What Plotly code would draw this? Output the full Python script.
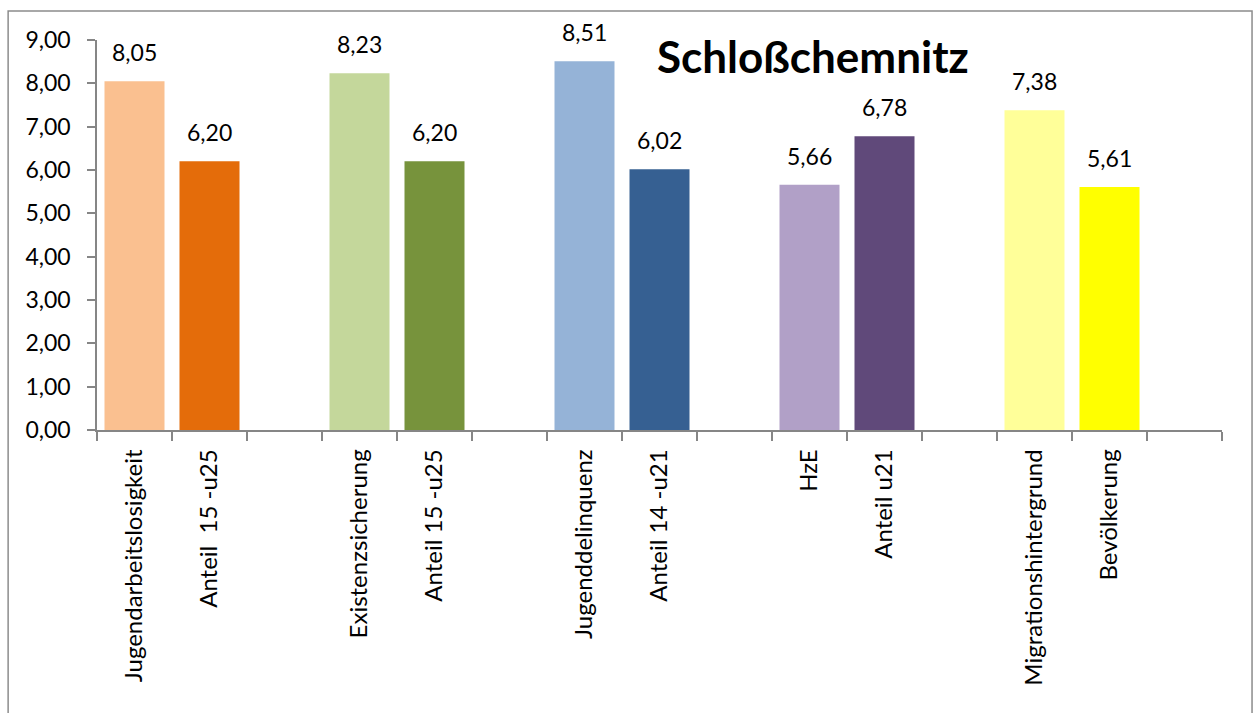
import plotly.graph_objects as go

# Slots: five groups of two bars, each group followed by an empty slot
labels = ["Jugendarbeitslosigkeit", "Anteil  15 -u25", "",
          "Existenzsicherung", "Anteil 15 -u25", "",
          "Jugenddelinquenz", "Anteil 14 -u21", "",
          "HzE", "Anteil u21", "",
          "Migrationshintergrund", "Bevölkerung", ""]
values = [8.05, 6.20, None,
          8.23, 6.20, None,
          8.51, 6.02, None,
          5.66, 6.78, None,
          7.38, 5.61, None]
colors = ["#FAC090", "#E46C0A", "#FFFFFF",
          "#C4D79B", "#77933C", "#FFFFFF",
          "#95B3D7", "#366092", "#FFFFFF",
          "#B1A0C7", "#60497A", "#FFFFFF",
          "#FFFF99", "#FFFF00", "#FFFFFF"]
y_ticks = [0, 1, 2, 3, 4, 5, 6, 7, 8, 9]

FONT = "Lato, Open Sans, sans-serif"
AXIS_GREY = "#868686"

xpos = list(range(len(labels)))

fig = go.Figure(go.Bar(
    x=xpos,
    y=values,
    width=0.8,
    marker=dict(color=colors, line=dict(width=0)),
    hoverinfo="skip",
))

# value labels sitting above each bar
value_notes = [
    dict(x=x, y=v, xref="x", yref="y",
         text=f"{v:.2f}".replace(".", ","),
         showarrow=False, xanchor="center", yanchor="bottom", yshift=13,
         font=dict(family=FONT, size=23, color="#000000"))
    for x, v in zip(xpos, values) if v is not None
]

fig.update_layout(
    width=1253,
    height=713,
    margin=dict(l=97, r=31, t=40, b=283),
    paper_bgcolor="#FFFFFF",
    plot_bgcolor="#FFFFFF",
    separators=",.",
    showlegend=False,
    font=dict(family=FONT, color="#000000"),
    xaxis=dict(
        range=[-0.5, len(labels) - 0.5],
        tickmode="array",
        tickvals=xpos,
        ticktext=labels,
        tickangle=-90,
        ticks="",
        ticklabelstandoff=8,
        tickfont=dict(family=FONT, size=24, color="#000000"),
        showline=True,
        linecolor=AXIS_GREY,
        linewidth=1.5,
        showgrid=False,
        zeroline=False,
        minor=dict(ticks="outside", tick0=0.5, dtick=1, ticklen=9,
                   tickcolor=AXIS_GREY, tickwidth=1.5, showgrid=False),
        fixedrange=True,
    ),
    yaxis=dict(
        range=[0, 9],
        tickmode="array",
        tickvals=y_ticks,
        tickformat=".2f",
        ticks="outside",
        ticklen=8,
        tickcolor=AXIS_GREY,
        tickwidth=1.5,
        ticklabelstandoff=12,
        tickfont=dict(family=FONT, size=23, color="#000000"),
        showline=True,
        linecolor=AXIS_GREY,
        linewidth=1.5,
        showgrid=False,
        zeroline=False,
        fixedrange=True,
    ),
    annotations=value_notes + [dict(
        text="<b>Schloßchemnitz</b>",
        xref="paper", yref="paper",
        x=0.636, y=0.958,
        xanchor="center", yanchor="middle",
        showarrow=False,
        font=dict(family=FONT, size=44, color="#000000"),
    )],
    shapes=[dict(
        type="rect", xref="paper", yref="paper",
        x0=-0.079, x1=1.0267, y0=-0.76, y1=1.0744,
        line=dict(color="#8C8C8C", width=1.5),
        fillcolor="rgba(0,0,0,0)",
        layer="below",
    )],
)

fig.write_html("out.html")
